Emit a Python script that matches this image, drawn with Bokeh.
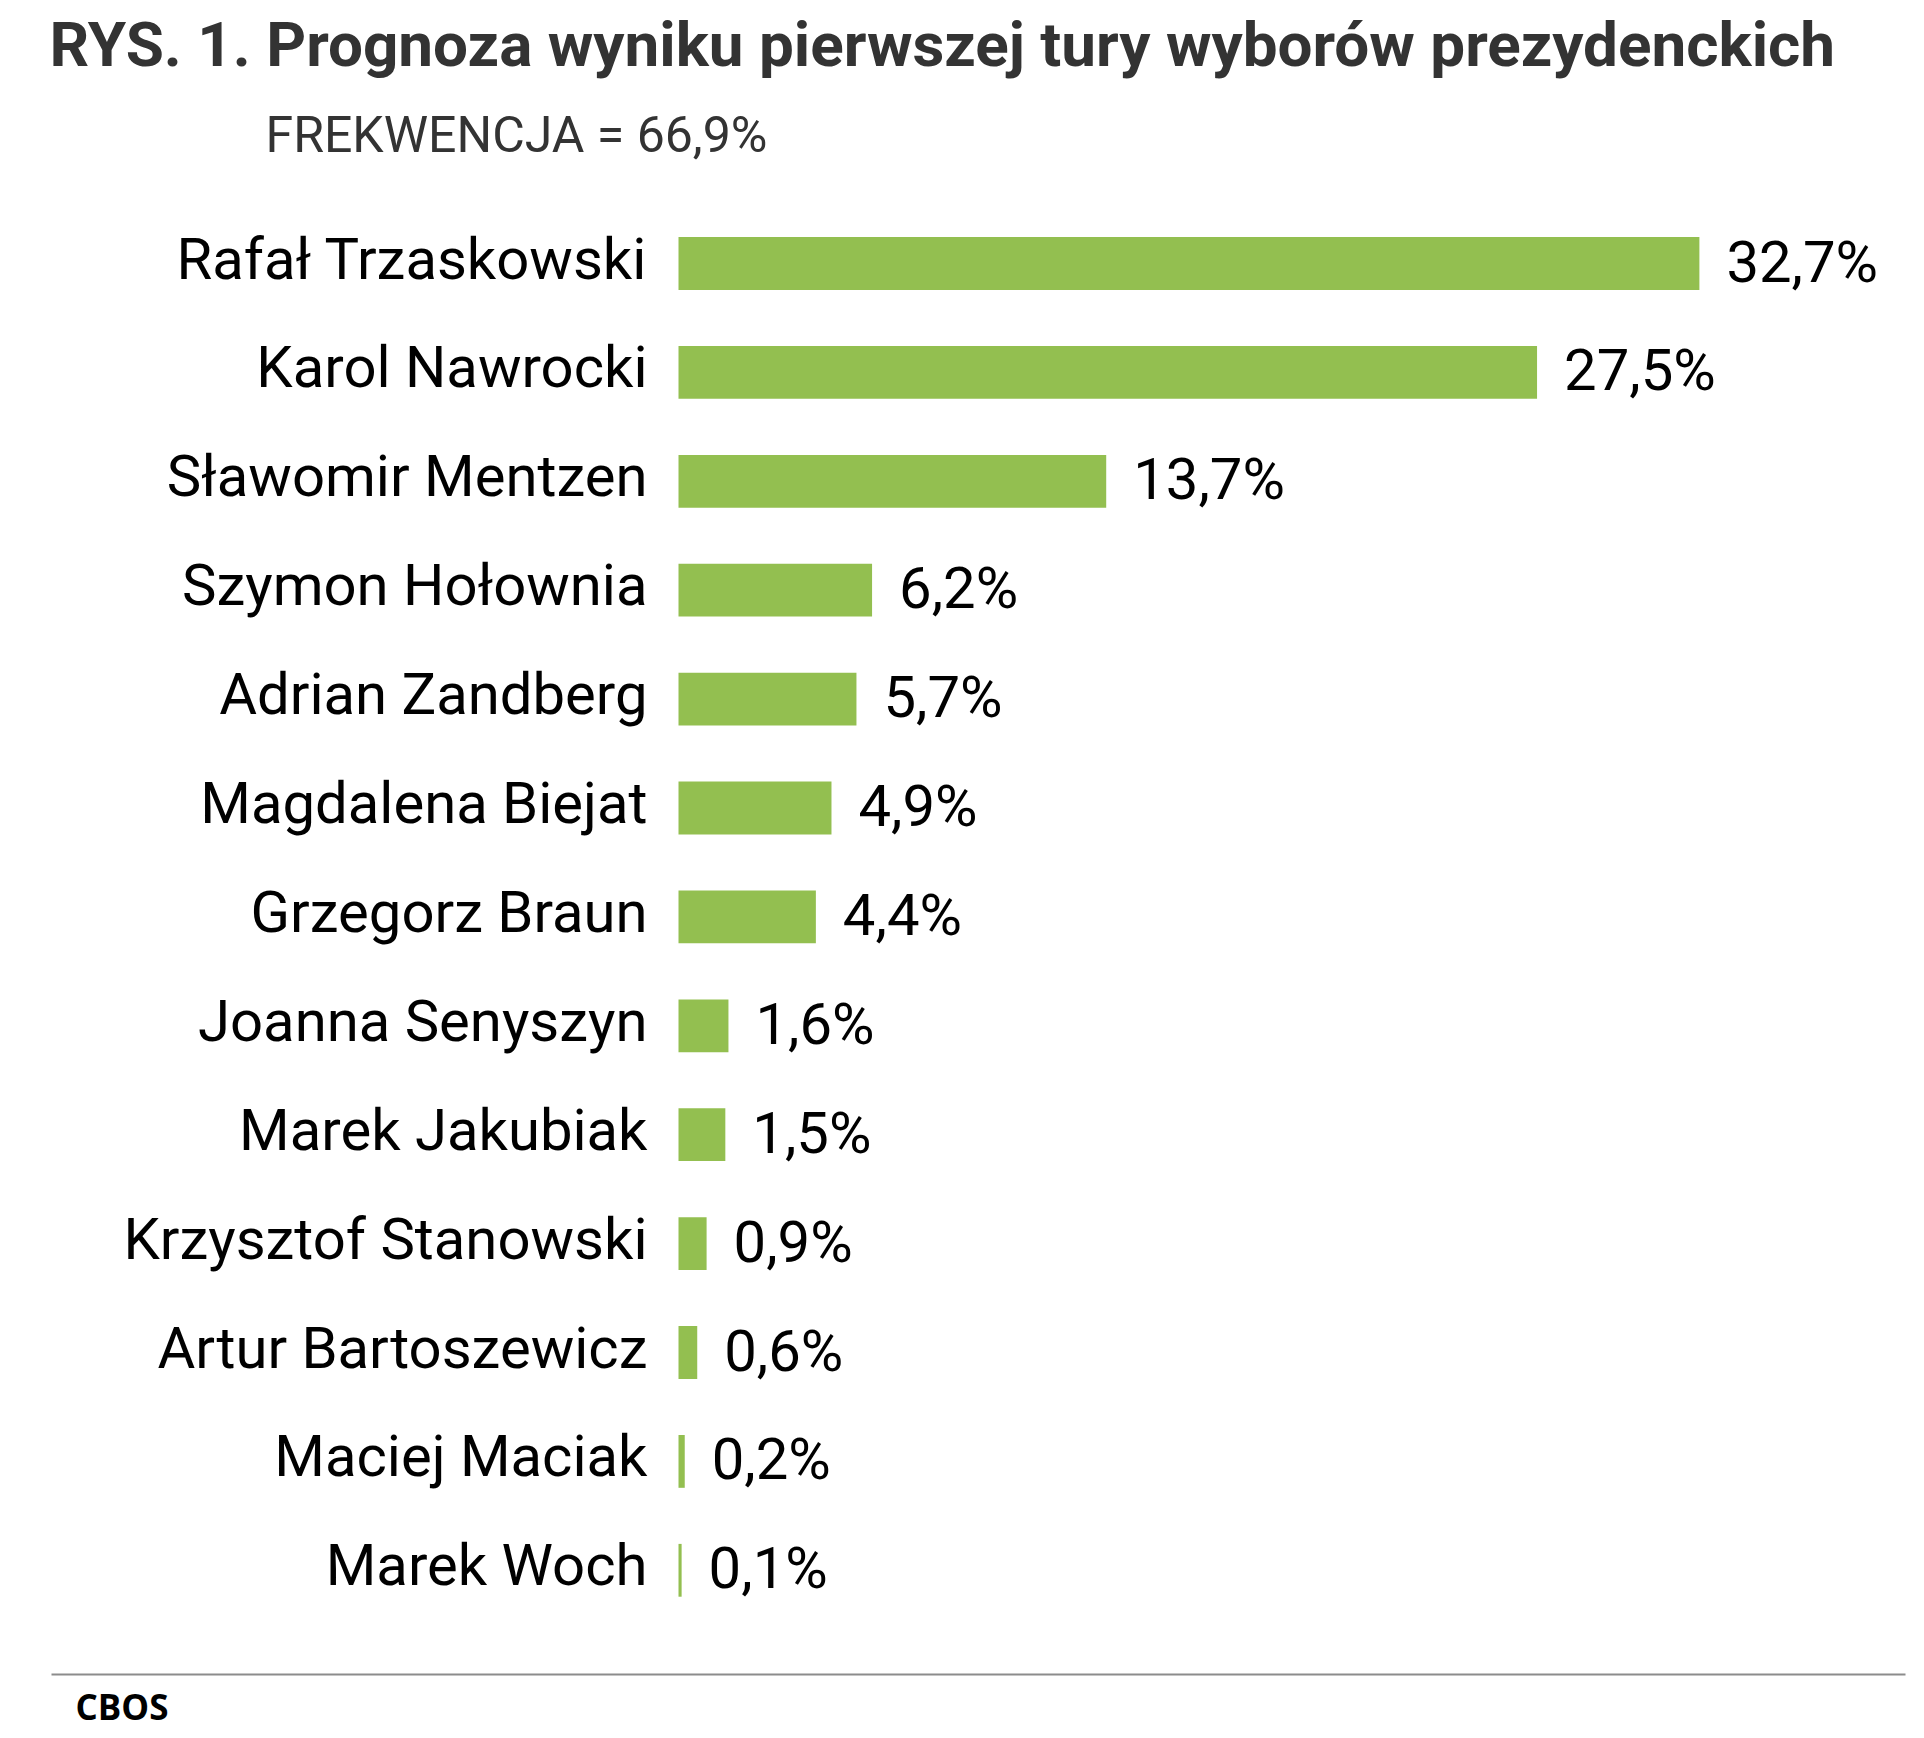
from bokeh.plotting import figure
from bokeh.models import Range1d
from bokeh.embed import file_html
from bokeh.resources import INLINE
from bokeh.core.properties import value

# ---- data ----
names = [
    "Rafał Trzaskowski",
    "Karol Nawrocki",
    "Sławomir Mentzen",
    "Szymon Hołownia",
    "Adrian Zandberg",
    "Magdalena Biejat",
    "Grzegorz Braun",
    "Joanna Senyszyn",
    "Marek Jakubiak",
    "Krzysztof Stanowski",
    "Artur Bartoszewicz",
    "Maciej Maciak",
    "Marek Woch",
]
values = [32.7, 27.5, 13.7, 6.2, 5.7, 4.9, 4.4, 1.6, 1.5, 0.9, 0.6, 0.2, 0.1]
value_labels = ["32,7%", "27,5%", "13,7%", "6,2%", "5,7%", "4,9%", "4,4%",
                "1,6%", "1,5%", "0,9%", "0,6%", "0,2%", "0,1%"]
title_text = "RYS. 1. Prognoza wyniku pierwszej tury wyborów prezydenckich"
subtitle_text = "FREKWENCJA = 66,9%"
source_text = "CBOS"

# ---- layout ----
W, H = 1916, 1736
X0 = 678.0      # canvas px where value 0 sits
PXU = 31.22     # px per percentage point
Y0 = 263.0      # canvas px of first bar centre
PITCH = 108.9   # px between bars

def dx(px):
    return (px - X0) / PXU

def dy(py):
    return (py - Y0) / PITCH

p = figure(width=W, height=H, output_backend="svg", toolbar_location=None,
           x_range=Range1d(dx(0), dx(W)), y_range=Range1d(dy(H), dy(0)),
           x_axis_type=None, y_axis_type=None,
           min_border=0, min_border_left=0, min_border_right=0,
           min_border_top=0, min_border_bottom=0)
p.outline_line_color = None
p.xgrid.visible = False
p.ygrid.visible = False
p.background_fill_color = "white"
p.border_fill_color = "white"

idx = list(range(len(names)))

p.hbar(y=idx, left=0, right=values, height=0.485,
       fill_color="#93BF50", line_color=None)

p.text(x=[0] * len(idx), y=idx, text=names, x_offset=-31, y_offset=-5,
       text_align="right", text_baseline="alphabetic",
       text_font=value("Roboto"), text_font_size="58px", text_color="#000000")

p.text(x=values, y=idx, text=value_labels, x_offset=27, y_offset=-2,
       text_align="left", text_baseline="alphabetic",
       text_font=value("Roboto"), text_font_size="58px", text_color="#000000")

p.text(x=[dx(49)], y=[dy(44)], text=[title_text],
       text_align="left", text_baseline="alphabetic",
       text_font=value("Roboto"), text_font_style="bold",
       text_font_size="62px", text_color="#333333")

p.text(x=[dx(265)], y=[dy(134)], text=[subtitle_text],
       text_align="left", text_baseline="alphabetic",
       text_font=value("Roboto"), text_font_size="50px",
       text_color="#333333")

p.segment(x0=[dx(51)], x1=[dx(1905)], y0=[dy(1674)], y1=[dy(1674)],
          line_color="#8c8c8c", line_width=2)

p.text(x=[dx(75)], y=[dy(1706)], text=[source_text],
       text_align="left", text_baseline="alphabetic",
       text_font=value("Open Sans"), text_font_style="bold",
       text_font_size="35px", text_color="#000000")

open("out.html", "w").write(file_html(p, INLINE))
